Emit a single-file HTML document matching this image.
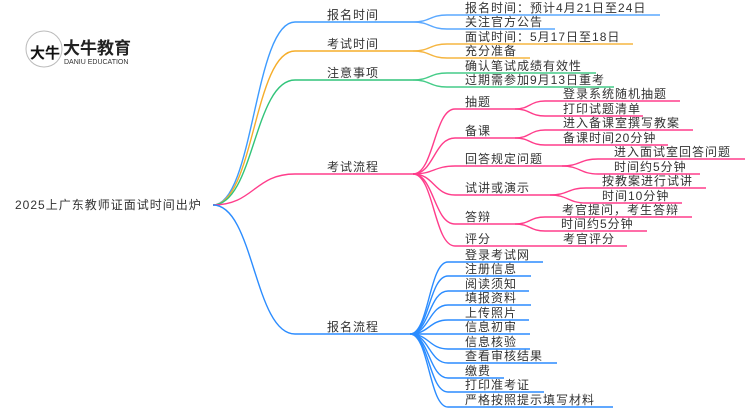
<!DOCTYPE html>
<html><head><meta charset="utf-8"><style>
html,body{margin:0;padding:0;background:#fff;width:750px;height:410px;overflow:hidden}
svg text{font-family:"Liberation Sans","Noto Sans CJK SC",sans-serif;font-size:12px;letter-spacing:1px;fill:#333}
path{fill:none;stroke-width:1.4}
</style></head><body>
<svg width="750" height="410" viewBox="0 0 750 410" xmlns="http://www.w3.org/2000/svg">
<!-- logo -->
<circle cx="44" cy="49" r="18" fill="#fff" stroke="#bbb" stroke-width="1"/>
<path d="M27 44 A18 18 0 0 1 61 44 Z" fill="#d9262c" stroke="none"/>
<text x="30" y="58" style="font-size:15px;font-weight:bold;fill:#111;letter-spacing:0">大牛</text>
<text x="63" y="54" style="font-size:17px;font-weight:bold;fill:#222;letter-spacing:0">大牛教育</text>
<text x="64" y="64" style="font-size:7px;fill:#333;letter-spacing:0">DANIU EDUCATION</text>

<!-- root -->
<text x="15" y="209">2025上广东教师证面试时间出炉</text>

<!-- level 1 -->
<path d="M213 205 C254 205,254 22,295 22 L413 22" stroke="#3d9bff"/>
<path d="M213 205 C254 205,254 51,295 51 L413 51" stroke="#f5ad2a"/>
<path d="M213 205 C254 205,254 80,295 80 L413 80" stroke="#31c47a"/>
<path d="M213 205 C254 205,254 174,295 174 L413 174" stroke="#ff3d8b"/>
<path d="M213 205 C254 205,254 334,295 334 L410 334" stroke="#2b8cff"/>
<text x="327" y="19">报名时间</text>
<text x="327" y="48">考试时间</text>
<text x="327" y="77">注意事项</text>
<text x="327" y="171">考试流程</text>
<text x="327" y="331">报名流程</text>

<!-- blue -->
<path d="M413 22 C430 22,430 15,447 15 L660 15" stroke="#5aa8ff"/>
<path d="M413 22 C430 22,430 29,447 29 L555 29" stroke="#5aa8ff"/>
<text x="465" y="12">报名时间：预计4月21日至24日</text>
<text x="465" y="26">关注官方公告</text>
<!-- orange -->
<path d="M413 51 C430 51,430 44,447 44 L633 44" stroke="#f5b540"/>
<path d="M413 51 C430 51,430 58,447 58 L530 58" stroke="#f5b540"/>
<text x="465" y="41">面试时间：5月17日至18日</text>
<text x="465" y="55">充分准备</text>
<!-- green -->
<path d="M413 80 C430 80,430 73,447 73 L596 73" stroke="#45cc88"/>
<path d="M413 80 C430 80,430 87,447 87 L614 87" stroke="#45cc88"/>
<text x="465" y="70">确认笔试成绩有效性</text>
<text x="465" y="84">过期需参加9月13日重考</text>

<!-- pink level2 -->
<g stroke="#ff3d8b">
<path d="M413 174 C434 174,434 109,455 109 L515 109"/>
<path d="M413 174 C434 174,434 138,455 138 L515 138"/>
<path d="M413 174 C434 174,434 166,455 166 L562 166"/>
<path d="M413 174 C434 174,434 195,455 195 L550 195"/>
<path d="M413 174 C434 174,434 224,455 224 L515 224"/>
<path d="M413 174 C434 174,434 246,455 246 L515 246"/>
<path d="M515 109 C530 109,530 101,545 101 L680 101"/>
<path d="M515 109 C530 109,530 116,545 116 L643 116"/>
<path d="M515 138 C530 138,530 130,545 130 L693 130"/>
<path d="M515 138 C530 138,530 145,545 145 L668 145"/>
<path d="M562 166 C580 166,580 159,598 159 L745 159"/>
<path d="M562 166 C580 166,580 174,598 174 L700 174"/>
<path d="M550 195 C568 195,568 188,586 188 L706 188"/>
<path d="M550 195 C568 195,568 203,586 203 L682 203"/>
<path d="M515 224 C530 224,530 217,545 217 L692 217"/>
<path d="M515 224 C530 224,530 231,545 231 L647 231"/>
<path d="M515 246 L627 246"/>
</g>
<text x="465" y="106">抽题</text>
<text x="465" y="135">备课</text>
<text x="465" y="163">回答规定问题</text>
<text x="465" y="192">试讲或演示</text>
<text x="465" y="221">答辩</text>
<text x="465" y="243">评分</text>
<text x="563" y="98">登录系统随机抽题</text>
<text x="563" y="113">打印试题清单</text>
<text x="563" y="127">进入备课室撰写教案</text>
<text x="563" y="142">备课时间20分钟</text>
<text x="614" y="156">进入面试室回答问题</text>
<text x="614" y="171">时间约5分钟</text>
<text x="602" y="185">按教案进行试讲</text>
<text x="602" y="200">时间10分钟</text>
<text x="562" y="214">考官提问，考生答辩</text>
<text x="561" y="228">时间约5分钟</text>
<text x="563" y="243">考官评分</text>

<!-- registration -->
<g stroke="#2b8cff">
<path d="M410 334 C429 334,429 262,448 262 L543 262"/>
<path d="M410 334 C429 334,429 276,448 276 L531 276"/>
<path d="M410 334 C429 334,429 291,448 291 L529 291"/>
<path d="M410 334 C429 334,429 305,448 305 L531 305"/>
<path d="M410 334 C429 334,429 320,448 320 L529 320"/>
<path d="M410 334 C429 334,429 334,448 334 L530 334"/>
<path d="M410 334 C429 334,429 349,448 349 L530 349"/>
<path d="M410 334 C429 334,429 363,448 363 L557 363"/>
<path d="M410 334 C429 334,429 378,448 378 L504 378"/>
<path d="M410 334 C429 334,429 392,448 392 L544 392"/>
<path d="M410 334 C429 334,429 407,448 407 L613 407"/>
</g>
<text x="465" y="259">登录考试网</text>
<text x="465" y="273">注册信息</text>
<text x="465" y="288">阅读须知</text>
<text x="465" y="302">填报资料</text>
<text x="465" y="317">上传照片</text>
<text x="465" y="331">信息初审</text>
<text x="465" y="346">信息核验</text>
<text x="465" y="360">查看审核结果</text>
<text x="465" y="375">缴费</text>
<text x="465" y="389">打印准考证</text>
<text x="465" y="404">严格按照提示填写材料</text>
</svg>
</body></html>
